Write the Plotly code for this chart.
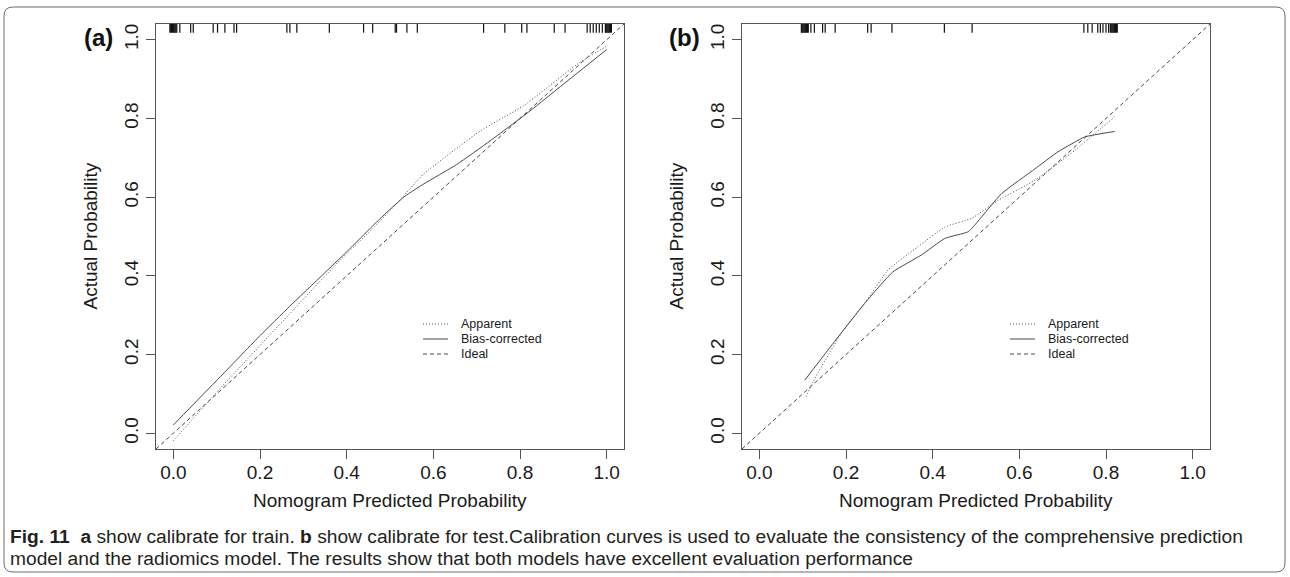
import plotly.graph_objects as go

W, H = 1290, 577

# Axis set-up shared by both calibration panels
AXIS_RANGE = [-0.04, 1.04]
TICK_VALS = [0.0, 0.2, 0.4, 0.6, 0.8, 1.0]
TICK_TEXT = ["0.0", "0.2", "0.4", "0.6", "0.8", "1.0"]

# (a) training set
train_apparent_x = [0.0, 0.114, 0.268, 0.383, 0.46, 0.514, 0.577, 0.708, 0.808, 0.931, 1.0]
train_apparent_y = [-0.019, 0.121, 0.303, 0.438, 0.52, 0.582, 0.658, 0.768, 0.832, 0.937, 0.984]
train_bias_x = [0.0, 0.114, 0.2, 0.268, 0.345, 0.4, 0.46, 0.5, 0.535, 0.577, 0.654, 0.731, 0.823, 0.9, 1.0]
train_bias_y = [0.021, 0.15, 0.248, 0.322, 0.403, 0.461, 0.527, 0.569, 0.603, 0.633, 0.683, 0.743, 0.819, 0.887, 0.975]
train_rug = [-0.008, -0.006, -0.004, -0.002, 0.0, 0.002, 0.004, 0.006, 0.008,
             0.015, 0.040, 0.046, 0.092, 0.102, 0.119, 0.140, 0.146,
             0.262, 0.269, 0.285, 0.360, 0.439, 0.460, 0.512, 0.515, 0.539, 0.563,
             0.716, 0.765, 0.804, 0.816, 0.879, 0.904,
             0.955, 0.962, 0.969, 0.976, 0.983, 0.990,
             0.997, 0.999, 1.001, 1.003, 1.005, 1.007, 1.009, 1.011]

# (b) test set
test_apparent_x = [0.108, 0.124, 0.189, 0.243, 0.297, 0.366, 0.428, 0.49, 0.551, 0.636, 0.728, 0.82]
test_apparent_y = [0.093, 0.131, 0.254, 0.33, 0.415, 0.474, 0.524, 0.546, 0.592, 0.643, 0.719, 0.804]
test_bias_x = [0.105, 0.158, 0.243, 0.308, 0.374, 0.428, 0.482, 0.497, 0.559, 0.636, 0.689, 0.751, 0.82]
test_bias_y = [0.135, 0.211, 0.33, 0.41, 0.453, 0.495, 0.512, 0.529, 0.609, 0.672, 0.715, 0.753, 0.767]
test_rug = [0.097, 0.099, 0.101, 0.103, 0.105, 0.107, 0.109, 0.111, 0.113,
            0.119, 0.127, 0.146, 0.152, 0.175, 0.250, 0.258, 0.306, 0.427, 0.491,
            0.749, 0.758, 0.768, 0.781, 0.787, 0.793, 0.800, 0.806,
            0.810, 0.812, 0.814, 0.816, 0.818, 0.820, 0.822, 0.824, 0.826]

LEGEND_LABELS = ["Apparent", "Bias-corrected", "Ideal"]
CAPTION_1 = ("<b>Fig. 11</b>  <b>a</b> show calibrate for train. <b>b</b> show calibrate for test."
             "Calibration curves is used to evaluate the consistency of the comprehensive prediction")
CAPTION_2 = "model and the radiomics model. The results show that both models have excellent evaluation performance"

FONT = "Liberation Sans, Arial, sans-serif"
LINE_COL = "#4a4a4a"
AXIS_COL = "#555555"
TEXT_COL = "#1a1a1a"
DOT = "1px,2px"
DASH = "4px,3px"


def px_x(p):
    return p / W


def px_y(p):
    return 1 - p / H


fig = go.Figure()

panels = [
    ("x", "y", train_apparent_x, train_apparent_y, train_bias_x, train_bias_y, train_rug),
    ("x2", "y2", test_apparent_x, test_apparent_y, test_bias_x, test_bias_y, test_rug),
]

rug_len = 0.022
for xa, ya, ax_, ay_, bx_, by_, rug in panels:
    # ideal line y = x across the whole plotting region
    fig.add_trace(go.Scatter(x=AXIS_RANGE, y=AXIS_RANGE, mode="lines", xaxis=xa, yaxis=ya,
                             line=dict(color=LINE_COL, width=1, dash=DASH), showlegend=False))
    fig.add_trace(go.Scatter(x=ax_, y=ay_, mode="lines", xaxis=xa, yaxis=ya,
                             line=dict(color=LINE_COL, width=1, dash=DOT, shape="spline", smoothing=0.4),
                             showlegend=False))
    fig.add_trace(go.Scatter(x=bx_, y=by_, mode="lines", xaxis=xa, yaxis=ya,
                             line=dict(color=LINE_COL, width=1, shape="spline", smoothing=0.4),
                             showlegend=False))
    # rug of predicted probabilities along the top border
    rx, ry = [], []
    for v in rug:
        rx += [v, v, None]
        ry += [AXIS_RANGE[1], AXIS_RANGE[1] - rug_len, None]
    fig.add_trace(go.Scatter(x=rx, y=ry, mode="lines", xaxis=xa, yaxis=ya,
                             line=dict(color="#111111", width=1.2), showlegend=False))

axis_common = dict(range=AXIS_RANGE, tickvals=TICK_VALS, ticktext=TICK_TEXT,
                   showgrid=False, zeroline=False, showline=True, mirror=True,
                   linecolor=AXIS_COL, linewidth=1.2, ticks="outside", ticklen=9,
                   tickcolor=AXIS_COL, tickwidth=1.2,
                   tickfont=dict(family=FONT, size=19, color=TEXT_COL))

ydom = [px_y(449), px_y(24)]
fig.update_layout(
    width=W, height=H,
    margin=dict(l=0, r=0, t=0, b=0),
    paper_bgcolor="white", plot_bgcolor="white",
    showlegend=False,
    xaxis=dict(domain=[px_x(156), px_x(624)], anchor="y", ticklabelstandoff=-3, **axis_common),
    yaxis=dict(domain=ydom, anchor="x", tickangle=-90, **axis_common),
    xaxis2=dict(domain=[px_x(742), px_x(1210)], anchor="y2", ticklabelstandoff=-3, **axis_common),
    yaxis2=dict(domain=ydom, anchor="x2", tickangle=-90, **axis_common),
)

annotations = []
shapes = []


def label(x, y, text, size, xanchor="center", angle=0, color=TEXT_COL):
    return dict(x=px_x(x), y=px_y(y), xref="paper", yref="paper", text=text,
                showarrow=False, xanchor=xanchor, yanchor="middle", textangle=angle,
                font=dict(family=FONT, size=size, color=color))


for (cx, ytx, lab_x, tag, leg_x0) in [(390, 90, 98, "(a)", 423), (976, 676, 684, "(b)", 1010)]:
    annotations.append(label(cx, 500, "Nomogram Predicted Probability", 19))
    annotations.append(label(ytx, 236.5, "Actual Probability", 19, angle=-90))
    annotations.append(label(lab_x, 37, "<b>" + tag + "</b>", 24, color="#111111"))
    # legend block
    for i, (lab, dash) in enumerate(zip(LEGEND_LABELS, [DOT, "solid", DASH])):
        yy = 324 + 15 * i
        shapes.append(dict(type="line", xref="paper", yref="paper",
                           x0=px_x(leg_x0), x1=px_x(leg_x0 + 25), y0=px_y(yy), y1=px_y(yy),
                           line=dict(color=LINE_COL, width=1, dash=dash)))
        annotations.append(label(leg_x0 + 36, yy, lab, 12.5, xanchor="left"))

annotations.append(label(8, 536, CAPTION_1, 19.2, xanchor="left", color="#231f20"))
annotations.append(label(8, 558, CAPTION_2, 19.2, xanchor="left", color="#231f20"))

# rounded frame around the whole figure
x0, x1, y0, y1, r = 4, 1285, 7, 572, 9
path = (f"M {px_x(x0 + r)},{px_y(y0)} L {px_x(x1 - r)},{px_y(y0)} "
        f"Q {px_x(x1)},{px_y(y0)} {px_x(x1)},{px_y(y0 + r)} "
        f"L {px_x(x1)},{px_y(y1 - r)} Q {px_x(x1)},{px_y(y1)} {px_x(x1 - r)},{px_y(y1)} "
        f"L {px_x(x0 + r)},{px_y(y1)} Q {px_x(x0)},{px_y(y1)} {px_x(x0)},{px_y(y1 - r)} "
        f"L {px_x(x0)},{px_y(y0 + r)} Q {px_x(x0)},{px_y(y0)} {px_x(x0 + r)},{px_y(y0)} Z")
shapes.append(dict(type="path", xref="paper", yref="paper", path=path,
                   line=dict(color="#6d6d6d", width=1)))

fig.update_layout(annotations=annotations, shapes=shapes)
fig.write_html("out.html")
